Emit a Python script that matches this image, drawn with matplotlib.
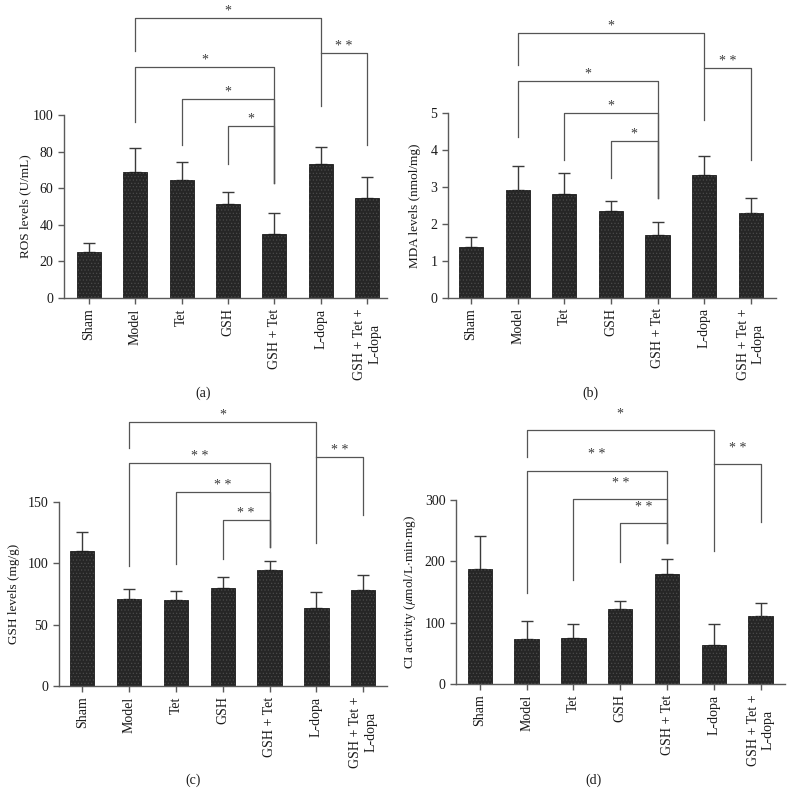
import matplotlib
matplotlib.use("Agg")
import matplotlib.pyplot as plt
import numpy as np

plt.rcParams['font.family'] = ['Liberation Serif', 'DejaVu Serif']
plt.rcParams['mathtext.fontset'] = 'stix'
plt.rcParams['hatch.linewidth'] = 0.5

categories = ["Sham", "Model", "Tet", "GSH", "GSH + Tet", "L-dopa", "GSH + Tet +\nL-dopa"]

ros_mean = [25.1, 69.0, 64.3, 51.4, 34.8, 73.0, 54.5]
ros_top = [29.9, 82.1, 74.1, 57.7, 46.6, 82.5, 66.3]
ros_brackets = [(1, 5, 152.8, 135.0, 105.0, "*"),
                (5, 6, 133.7, 133.7, 83.6, "* *"),
                (1, 4, 126.4, 96.0, 62.8, "*"),
                (2, 4, 109.0, 83.6, 62.8, "*"),
                (3, 4, 94.0, 73.0, 62.8, "*")]

mda_mean = [1.37, 2.92, 2.80, 2.34, 1.71, 3.32, 2.29]
mda_top = [1.65, 3.56, 3.38, 2.63, 2.04, 3.83, 2.70]
mda_brackets = [(1, 5, 7.18, 6.31, 4.82, "*"),
                (5, 6, 6.22, 6.22, 3.73, "* *"),
                (1, 4, 5.87, 4.36, 2.69, "*"),
                (2, 4, 5.01, 3.73, 2.69, "*"),
                (3, 4, 4.25, 3.24, 2.69, "*")]

gsh_mean = [110.3, 70.9, 70.1, 80.2, 94.5, 63.3, 78.5]
gsh_top = [125.2, 78.8, 77.7, 89.1, 102.2, 76.9, 90.7]
gsh_brackets = [(1, 5, 214.9, 193.7, 116.3, "*"),
                (5, 6, 186.4, 186.4, 139.4, "* *"),
                (1, 4, 181.5, 98.0, 113.6, "* *"),
                (2, 4, 158.1, 99.4, 113.6, "* *"),
                (3, 4, 135.3, 103.5, 113.6, "* *")]

ci_mean = [187.2, 73.8, 75.4, 121.5, 179.6, 64.0, 110.7]
ci_top = [240.9, 102.0, 97.7, 134.6, 202.9, 97.7, 132.4]
ci_brackets = [(1, 5, 413.5, 369.0, 217.0, "*"),
               (5, 6, 358.0, 358.0, 263.2, "* *"),
               (1, 4, 347.3, 147.6, 230.0, "* *"),
               (2, 4, 300.6, 169.3, 230.0, "* *"),
               (3, 4, 261.5, 198.0, 230.0, "* *")]

ylabels = ["ROS levels (U/mL)", "MDA levels (nmol/mg)", "GSH levels (mg/g)",
           r"CI activity ($\mu$mol/L$\cdot$min$\cdot$mg)"]
yticks_list = [[0, 20, 40, 60, 80, 100], [0, 1, 2, 3, 4, 5], [0, 50, 100, 150], [0, 100, 200, 300]]
captions = ["(a)", "(b)", "(c)", "(d)"]

W, H = 793, 794
fig = plt.figure(figsize=(W / 100, H / 100), dpi=100)

# axes boxes in pixels: left, right, top, bottom
boxes = [(64, 387, 115, 298), (447.7, 776, 113.3, 297.7),
         (58.7, 386.7, 502, 686), (456, 785, 499.7, 684)]
xlims = [(-0.54, 6.43), (-0.5, 6.54), (-0.5, 6.5), (-0.51, 6.52)]
caption_pos = [(203, 393), (590, 393), (193, 780), (593, 780)]
ylabel_x = [31, 421, 20, 418]
star_off = [5, 5, 5, 11.5]

panels = [(ros_mean, ros_top, ros_brackets), (mda_mean, mda_top, mda_brackets),
          (gsh_mean, gsh_top, gsh_brackets), (ci_mean, ci_top, ci_brackets)]

axcol = '#5a5a5a'
for k, (mean, top, brackets) in enumerate(panels):
    l, r, t, b = boxes[k]
    ax = fig.add_axes([l / W, 1 - b / H, (r - l) / W, (b - t) / H])
    x = np.arange(len(categories))
    mean = np.array(mean)
    err = np.array(top) - mean
    ax.errorbar(x, mean, yerr=[np.zeros_like(err), err], fmt='none', ecolor='#3a3a3a',
                elinewidth=1.0, capsize=4.5, capthick=1.0, zorder=1)
    ax.bar(x, mean, width=0.52, color='#262626', edgecolor='#1a1a1a', linewidth=0.6, zorder=2)
    ax.bar(x, mean, width=0.52, fill=False, hatch='.....', edgecolor='#4a4a4a',
           linewidth=0, zorder=3)
    yt = yticks_list[k]
    ax.set_ylim(0, yt[-1])
    ax.set_xlim(*xlims[k])
    ax.set_yticks(yt)
    ax.set_xticks(x)
    ax.set_xticklabels(categories, rotation=90, fontsize=10, color='#1a1a1a',
                       multialignment='center')
    ax.tick_params(axis='y', labelsize=10, colors=axcol, labelcolor='#1a1a1a', length=4, width=1)
    ax.tick_params(axis='x', colors=axcol, labelcolor='#1a1a1a', length=4, width=1)
    for s in ['top', 'right']:
        ax.spines[s].set_visible(False)
    for s in ['left', 'bottom']:
        ax.spines[s].set_color(axcol)
        ax.spines[s].set_linewidth(1.0)
    ax.set_ylabel(ylabels[k], fontsize=9.5, color='#1a1a1a')
    ax.yaxis.set_label_coords((ylabel_x[k] - l) / (r - l), 0.5)
    for (i, j, y, yi, yj, lab) in brackets:
        ax.plot([i, i, j, j], [yi, y, y, yj], color='#555555', lw=0.9, clip_on=False, zorder=4)
        ax.annotate(lab, xy=((i + j) / 2, y), xytext=(0, star_off[k]), textcoords='offset points',
                    ha='center', va='center', fontsize=10, color='#3a3a3a', annotation_clip=False)
    cx, cy = caption_pos[k]
    fig.text(cx / W, 1 - cy / H, captions[k], ha='center', va='center', fontsize=10, color='#1a1a1a')

fig.savefig("out.png", dpi=100)
